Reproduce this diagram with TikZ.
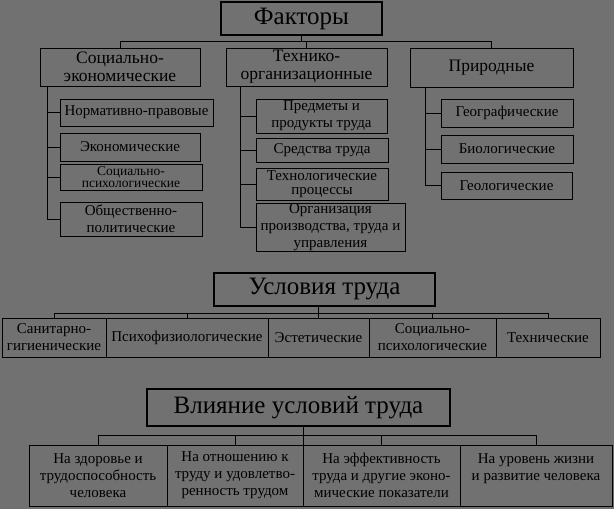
\documentclass[tikz,border=0pt]{standalone}
\usepackage{fontspec}
\setmainfont{Liberation Serif}
\definecolor{bg}{RGB}{113,113,113}
\newcommand\bx[7][]{\node[box,#1,minimum width={(#5-#3)*1pt},minimum height={(#6-#4)*1pt}] (#2) at ({(#3+#5)/2},{(#4+#6)/2}) {#7};}
\begin{document}
\begin{tikzpicture}[x=1pt,y=-1pt,line width=0.9pt,
  box/.style={draw=black,align=center,inner sep=0pt,font=\fontsize{15}{17}\selectfont},
  titlebox/.style={line width=2.6pt,font=\fontsize{25}{28}\selectfont},
  mainbox/.style={font=\fontsize{17.5}{18}\selectfont},
  tight/.style={font=\fontsize{13.5}{12.5}\selectfont},
  mid/.style={font=\fontsize{15}{13.5}\selectfont}]
\fill[bg] (0,0) rectangle (614,509);
\useasboundingbox (0,0) rectangle (614,509);
% ---- Factors
\bx[titlebox]{fak}{221}{2}{382}{35}{Факторы}
\bx[mainbox]{se}{40}{48}{200}{86}{Социально-\\экономические}
\bx[mainbox]{te}{226}{48}{387}{86}{Технико-\\организационные}
\bx[mainbox]{pr}{410}{48}{573}{87}{Природные}
\bx{np}{60}{99}{213}{126}{Нормативно-правовые}
\bx{ek}{60}{133}{200}{161}{Экономические}
\bx[tight]{sp}{60}{164}{202}{190}{Социально-\\психологические}
\bx{op}{60}{202}{202}{236}{Общественно-\\политические}
\bx{pp}{256}{99}{387}{133}{Предметы и\\продукты труда}
\bx{st}{256}{138}{388}{162}{Средства труда}
\bx[mid]{tp}{256}{168}{388}{200}{Технологические\\процессы}
\bx{or}{256}{204}{405}{251}{Организация\\производства, труда и\\управления}
\bx{ge}{441}{99}{573}{127}{Географические}
\bx{bi}{441}{135}{573}{163}{Биологические}
\bx{gl}{441}{172}{572}{199}{Геологические}
\coordinate (h1) at (0,41);
\draw (fak.south) -- (fak.south |- h1);
\draw (se.north) -- (se.north |- h1) -- (pr.north |- h1) -- (pr.north);
\draw (te.north) -- (te.north |- h1);
\coordinate (t1) at (47,0);
\coordinate (t2) at (240,0);
\coordinate (t3) at (425,0);
\foreach \n in {np,ek,sp,op} \draw (t1 |- se.south) |- (\n.west);
\foreach \n in {pp,st,tp,or} \draw (t2 |- te.south) |- (\n.west);
\foreach \n in {ge,bi,gl} \draw (t3 |- pr.south) |- (\n.west);
% ---- Conditions
\bx[titlebox]{us}{214}{273}{435}{306}{Условия труда}
\bx{san}{2}{318}{106}{357}{Санитарно-\\гигиенические}
\bx{psy}{106}{318}{268}{357}{Психофизиологические}
\bx{es}{268}{318}{369}{357}{Эстетические}
\bx{sps}{369}{318}{496}{357}{Социально-\\психологические}
\bx{teh}{496}{318}{600}{357}{Технические}
\coordinate (h2) at (0,313);
\draw (san.north) -- (san.north |- h2) -- (teh.north |- h2) -- (teh.north);
\draw (es.north |- us.south) -- (es.north);
\foreach \n in {psy,sps} \draw (\n.north) -- (\n.north |- h2);
% ---- Influence
\bx[titlebox]{vl}{147}{389}{450}{426}{Влияние условий труда}
\bx{b1}{29}{445}{167}{506}{На здоровье и\\трудоспособность\\человека}
\bx{b2}{167}{445}{303}{506}{На отношению к\\труду и удовлетво-\\ренность трудом}
\bx{b3}{303}{445}{460}{506}{На эффективность\\труда и другие эконо-\\мические показатели}
\bx{b4}{460}{445}{612}{506}{На уровень жизни\\и развитие человека\\\mbox{}}
\coordinate (h3) at (0,435);
\draw (b1.north) -- (b1.north |- h3) -- (b4.north |- h3) -- (b4.north);
\draw (b2.north east |- vl.south) -- (b2.north east);
\foreach \n in {b2,b3} \draw (\n.north) -- (\n.north |- h3);
\end{tikzpicture}
\end{document}
